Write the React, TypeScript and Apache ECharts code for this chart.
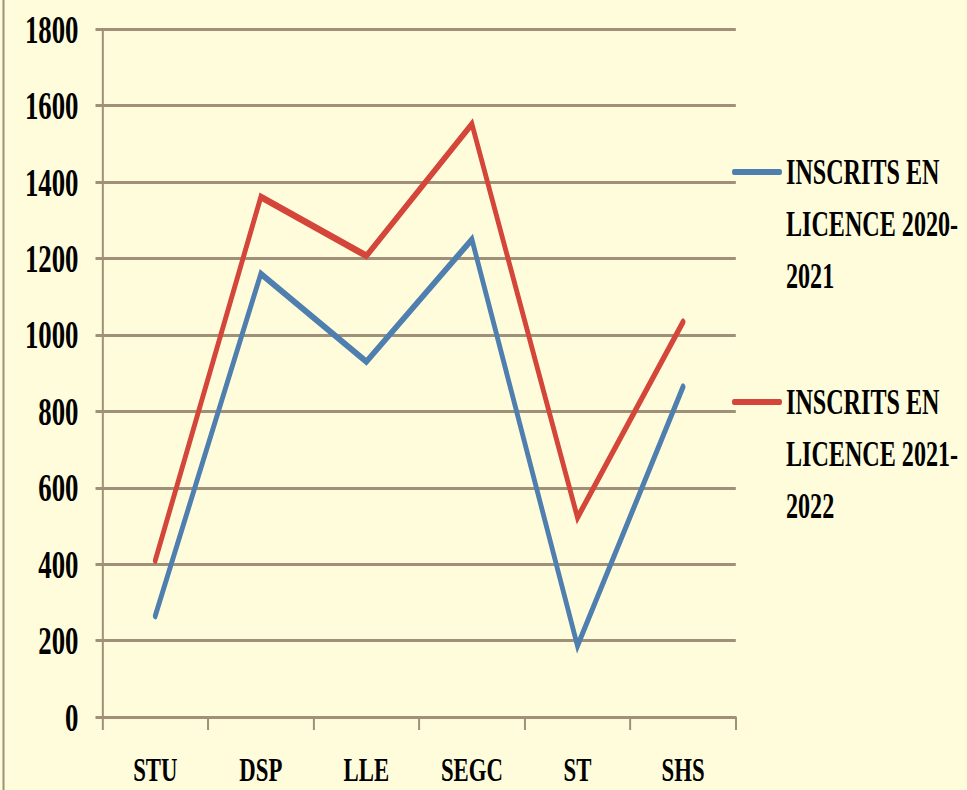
import React, { useEffect, useRef } from "react";
import * as echarts from "echarts";

const categories = ["STU", "DSP", "LLE", "SEGC", "ST", "SHS"];
const series2020 = [265, 1160, 930, 1250, 186, 864];
const series2021 = [410, 1361, 1207, 1552, 522, 1034];
const seriesNames = ["INSCRITS EN\nLICENCE 2020-\n2021", "INSCRITS EN\nLICENCE 2021-\n2022"];
const seriesColors = ["#4F7FAF", "#D4463A"];
const yTicks = { min: 0, max: 1800, interval: 200 };

const S = 0.67; // horizontal squeeze of the picture
const W = 967;
const H = 790;
const ux = (x: number) => x / S;

export default function App() {
  const ref = useRef<HTMLDivElement>(null);
  useEffect(() => {
    if (!ref.current) return;
    const chart = echarts.init(ref.current, null, { renderer: "svg" });
    const gridColor = "#A09079";
    const font = "'Liberation Serif', 'DejaVu Serif', serif";
    const legendY = [172, 402];
    chart.setOption({
      animation: false,
      backgroundColor: "#FFFCDC",
      grid: {
        left: ux(102.5),
        right: ux(W - 736),
        top: 29.3,
        bottom: H - 717,
        containLabel: false,
      },
      xAxis: {
        type: "category",
        data: categories,
        boundaryGap: true,
        axisLine: { show: true, lineStyle: { color: gridColor, width: 3 } },
        axisTick: { show: true, length: 13, lineStyle: { color: gridColor, width: 3 } },
        axisLabel: {
          margin: 37,
          color: "#000",
          fontFamily: font,
          fontWeight: "bold",
          fontSize: 34,
          lineHeight: 30,
        },
        splitLine: { show: false },
      },
      yAxis: {
        type: "value",
        min: yTicks.min,
        max: yTicks.max,
        interval: yTicks.interval,
        axisLine: { show: true, lineStyle: { color: gridColor, width: 3 } },
        axisTick: { show: true, length: ux(7), lineStyle: { color: gridColor, width: 3 } },
        axisLabel: {
          margin: ux(24),
          color: "#000",
          fontFamily: font,
          fontWeight: "bold",
          fontSize: 40,
          formatter: (v: number) => String(v),
        },
        splitLine: { show: true, lineStyle: { color: gridColor, width: 3 } },
      },
      series: [
        {
          name: seriesNames[0],
          type: "line",
          data: series2020,
          showSymbol: false,
          symbol: "none",
          lineStyle: { color: seriesColors[0], width: 7, cap: "round", join: "miter" },
          itemStyle: { color: seriesColors[0] },
          z: 3,
        },
        {
          name: seriesNames[1],
          type: "line",
          data: series2021,
          showSymbol: false,
          symbol: "none",
          lineStyle: { color: seriesColors[1], width: 7, cap: "round", join: "miter" },
          itemStyle: { color: seriesColors[1] },
          z: 4,
        },
      ],
      graphic: [
        {
          type: "line",
          shape: { x1: ux(3.5), y1: 0, x2: ux(3.5), y2: H },
          style: { stroke: gridColor, lineWidth: 3 },
        },
        ...seriesNames.flatMap((name, i) => [
          {
            type: "line",
            shape: { x1: ux(734), y1: legendY[i], x2: ux(780), y2: legendY[i] },
            style: { stroke: seriesColors[i], lineWidth: 6, lineCap: "round" },
          },
          {
            type: "text",
            x: ux(786),
            y: legendY[i] - 26,
            style: {
              text: name,
              fill: "#000",
              font: `bold 36px ${font}`,
              lineHeight: 52,
              verticalAlign: "top",
              align: "left",
            },
          },
        ]),
      ],
    });
    return () => chart.dispose();
  }, []);
  return (
    <div
      style={{
        position: "fixed",
        left: 0,
        top: 0,
        width: W,
        height: H,
        overflow: "hidden",
        background: "#FFFCDC",
      }}
    >
      <div
        ref={ref}
        style={{
          width: ux(W),
          height: H,
          transform: `scaleX(${S})`,
          transformOrigin: "0 0",
        }}
      />
    </div>
  );
}
